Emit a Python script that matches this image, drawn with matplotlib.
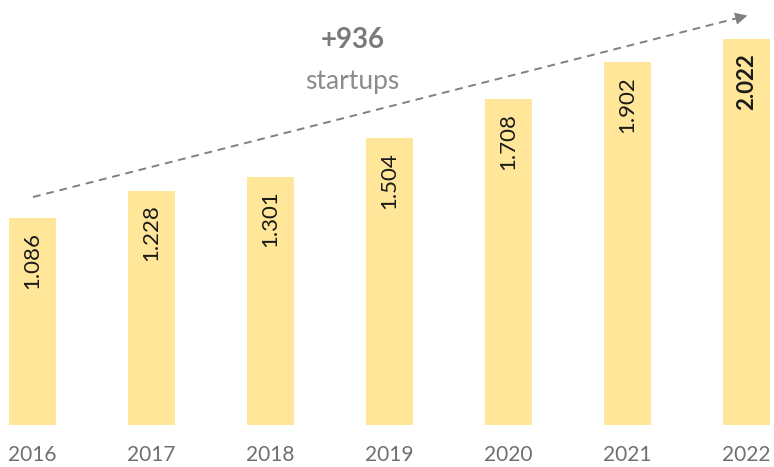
import matplotlib.pyplot as plt
import numpy as np

years = ["2016", "2017", "2018", "2019", "2020", "2021", "2022"]
startups = [1086, 1228, 1301, 1504, 1708, 1902, 2022]

plt.rcParams['font.family'] = ['Lato', 'DejaVu Sans']

fig = plt.figure(figsize=(7.74, 4.67), dpi=100)
ax = fig.add_axes([0, 0, 1, 1])

x = np.arange(len(years))
ax.bar(x, startups, width=0.395, color="#FFE699")

# value labels inside bars, rotated
for i, v in enumerate(startups):
    label = f"{v:,}".replace(",", ".")
    last = i == len(startups) - 1
    ax.annotate(label, (x[i], v), xytext=(0, -14), textcoords="offset pixels",
                rotation=90, ha="center", va="top", fontsize=16,
                color="#1a1a1a", fontweight="bold" if last else "normal")

# year labels under bars
for i, y in enumerate(years):
    ax.text(x[i], -157, y, ha="center", va="center", fontsize=15, color="#6f6f6f")

# dashed growth arrow
x0, y0 = 0.004, 1194
x1, y1 = 6.03, 2148
ax.plot([x0, x1 - 0.1], [y0, y0 + (y1 - y0) * (x1 - 0.1 - x0) / (x1 - x0)],
        linestyle=(0, (4, 3)), color="#808080", lw=1.4)
ax.annotate("", xy=(x1, y1), xytext=(x1 - 0.12, y1 - 19),
            arrowprops=dict(arrowstyle="-|>", color="#808080", lw=0, mutation_scale=22))

diff = startups[-1] - startups[0]
ax.text(2.69, 2014, f"+{diff}", ha="center", va="center", fontsize=20,
        fontweight="bold", color="#7a7a7a")
ax.text(2.69, 1800, "startups", ha="center", va="center", fontsize=19, color="#8c8c8c")

ax.set_xlim(-0.273, 6.231)
ax.set_ylim(-220, 2226)
ax.axis("off")

fig.savefig("out.png", dpi=100)
